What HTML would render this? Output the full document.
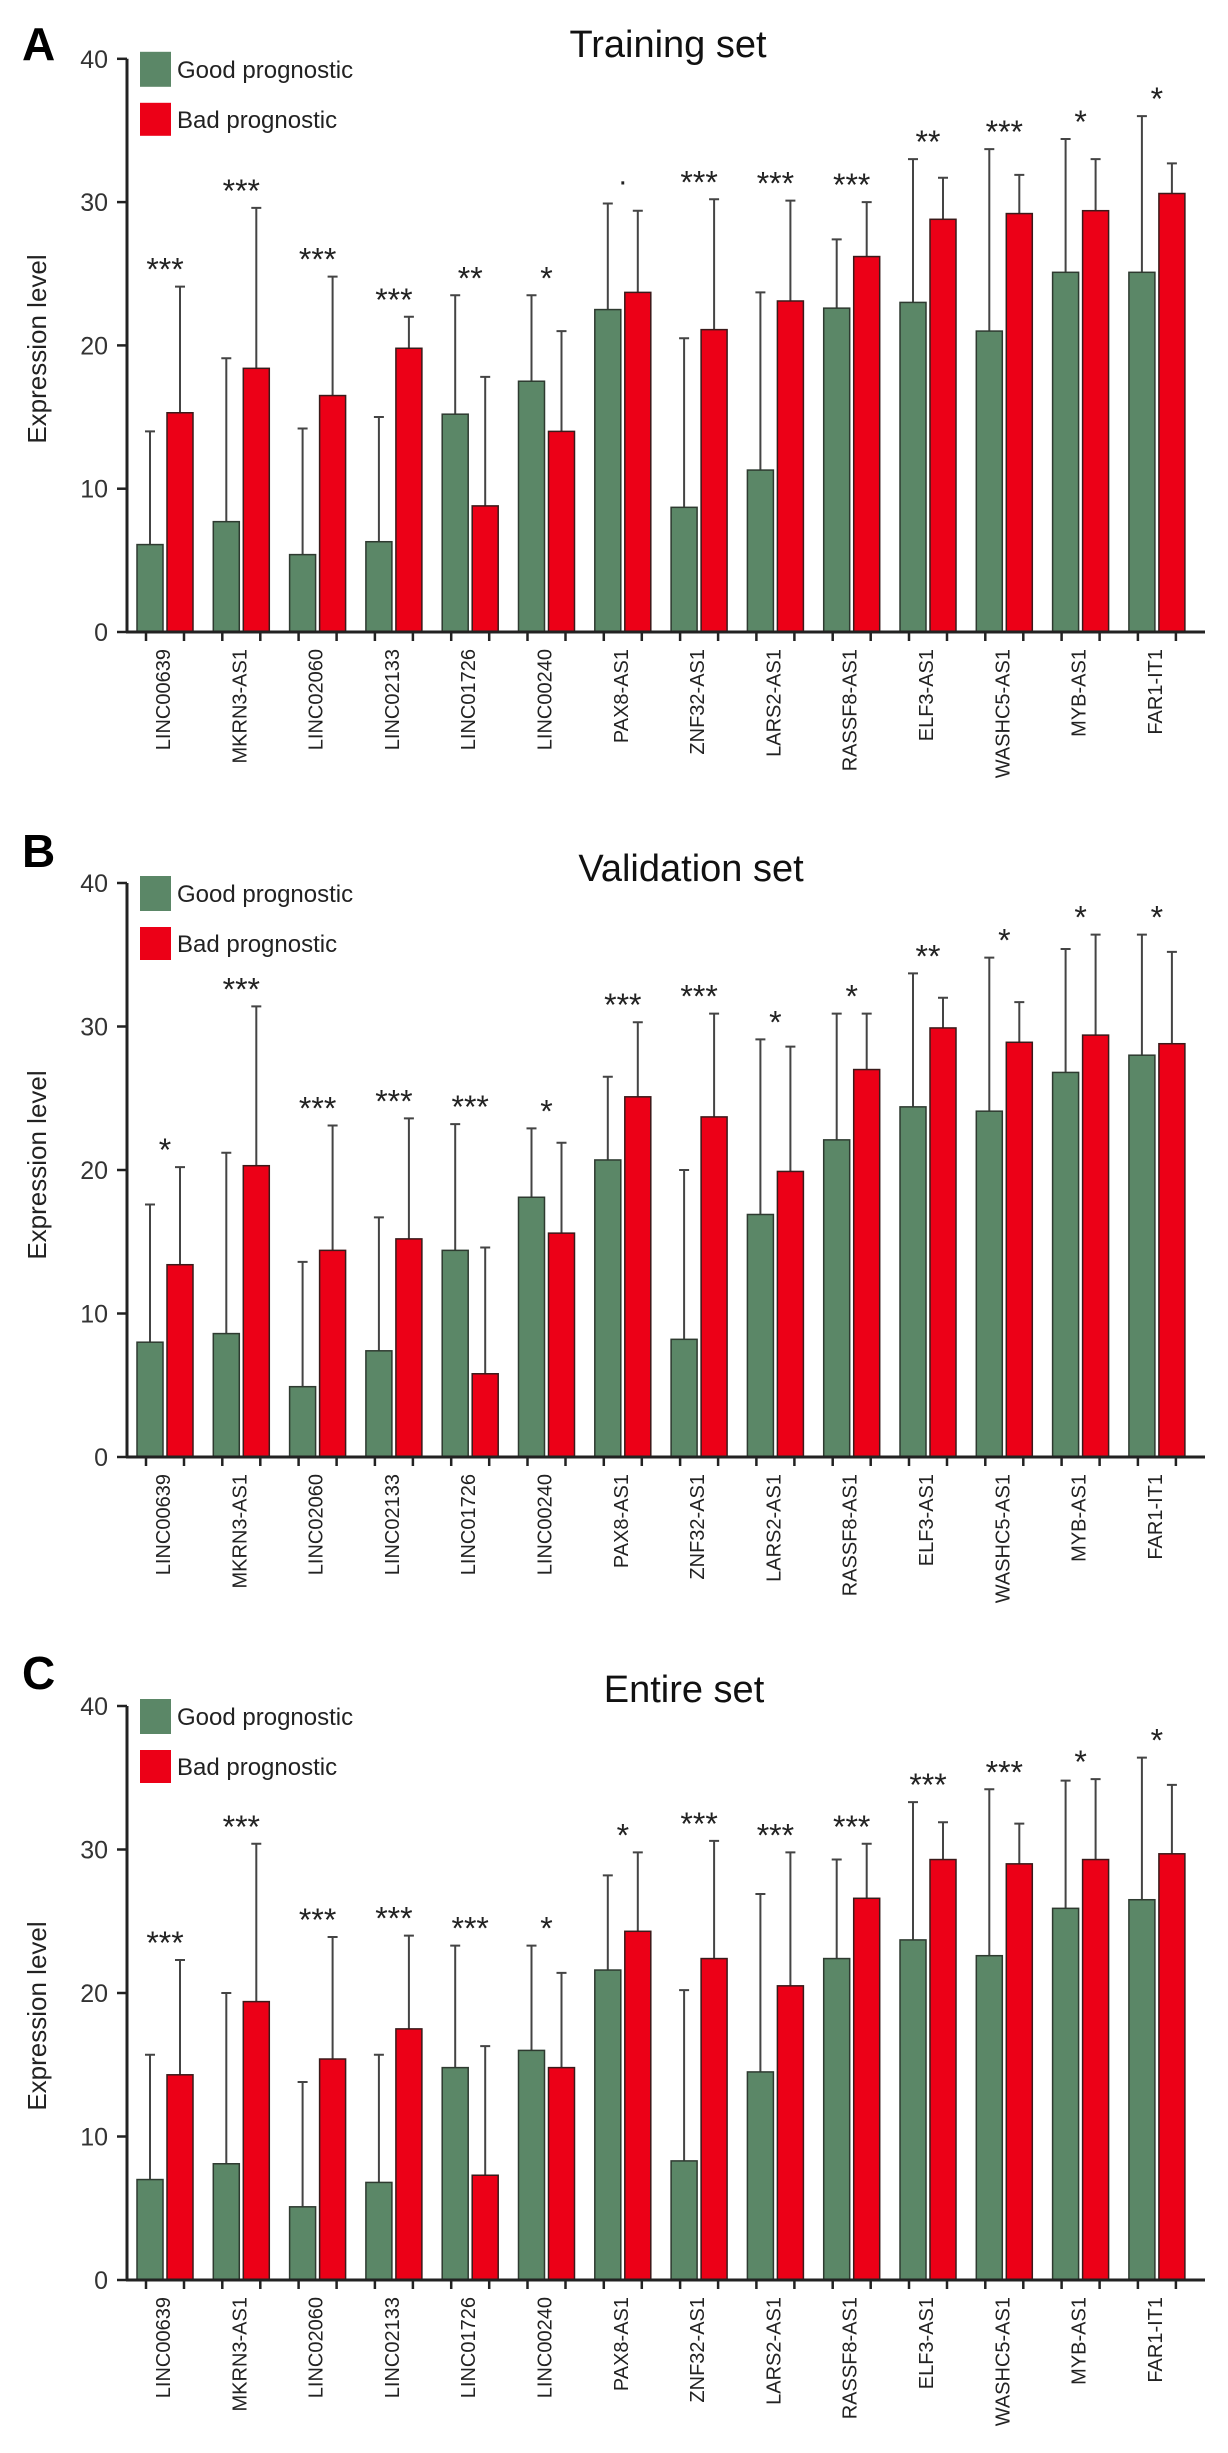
<!DOCTYPE html>
<html><head><meta charset="utf-8">
<style>
html,body{margin:0;padding:0;background:#fff;}
svg{display:block;font-family:"Liberation Sans",Arial,sans-serif;}
</style></head>
<body>
<svg id="fig" width="1228" height="2453" viewBox="0 0 1228 2453" xmlns="http://www.w3.org/2000/svg"></svg>
<script>
const categories = ["LINC00639","MKRN3-AS1","LINC02060","LINC02133","LINC01726","LINC00240","PAX8-AS1","ZNF32-AS1","LARS2-AS1","RASSF8-AS1","ELF3-AS1","WASHC5-AS1","MYB-AS1","FAR1-IT1"];
const yTicks = [0,10,20,30,40];

const goodA    = [6.1,7.7,5.4,6.3,15.2,17.5,22.5,8.7,11.3,22.6,23.0,21.0,25.1,25.1];
const goodErrA = [14.0,19.1,14.2,15.0,23.5,23.5,29.9,20.5,23.7,27.4,33.0,33.7,34.4,36.0];
const badA     = [15.3,18.4,16.5,19.8,8.8,14.0,23.7,21.1,23.1,26.2,28.8,29.2,29.4,30.6];
const badErrA  = [24.1,29.6,24.8,22.0,17.8,21.0,29.4,30.2,30.1,30.0,31.7,31.9,33.0,32.7];
const sigA     = ["***","***","***","***","**","*","·","***","***","***","**","***","*","*"];

const goodB    = [8.0,8.6,4.9,7.4,14.4,18.1,20.7,8.2,16.9,22.1,24.4,24.1,26.8,28.0];
const goodErrB = [17.6,21.2,13.6,16.7,23.2,22.9,26.5,20.0,29.1,30.9,33.7,34.8,35.4,36.4];
const badB     = [13.4,20.3,14.4,15.2,5.8,15.6,25.1,23.7,19.9,27.0,29.9,28.9,29.4,28.8];
const badErrB  = [20.2,31.4,23.1,23.6,14.6,21.9,30.3,30.9,28.6,30.9,32.0,31.7,36.4,35.2];
const sigB     = ["*","***","***","***","***","*","***","***","*","*","**","*","*","*"];

const goodC    = [7.0,8.1,5.1,6.8,14.8,16.0,21.6,8.3,14.5,22.4,23.7,22.6,25.9,26.5];
const goodErrC = [15.7,20.0,13.8,15.7,23.3,23.3,28.2,20.2,26.9,29.3,33.3,34.2,34.8,36.4];
const badC     = [14.3,19.4,15.4,17.5,7.3,14.8,24.3,22.4,20.5,26.6,29.3,29.0,29.3,29.7];
const badErrC  = [22.3,30.4,23.9,24.0,16.3,21.4,29.8,30.6,29.8,30.4,31.9,31.8,34.9,34.5];
const sigC     = ["***","***","***","***","***","*","*","***","***","***","***","***","*","*"];

const NS = "http://www.w3.org/2000/svg";
const svg = document.getElementById('fig');
function mk(tag, attrs, parent, text){
  const e = document.createElementNS(NS, tag);
  for (const k in attrs) e.setAttribute(k, attrs[k]);
  if (text !== undefined) e.textContent = text;
  (parent||svg).appendChild(e);
  return e;
}

const panels = [
  {key:"a", letter:"A", title:"Training set", good:goodA, gErr:goodErrA, bad:badA, bErr:badErrA, sig:sigA,
   zero:632, unit:14.33, letterY:60, titleX:668, titleY:57, yTitleY:349},
  {key:"b", letter:"B", title:"Validation set", good:goodB, gErr:goodErrB, bad:badB, bErr:badErrB, sig:sigB,
   zero:1457, unit:14.35, letterY:867, titleX:691, titleY:881, yTitleY:1165},
  {key:"c", letter:"C", title:"Entire set", good:goodC, gErr:goodErrC, bad:badC, bErr:badErrC, sig:sigC,
   zero:2280, unit:14.35, letterY:1689, titleX:684, titleY:1702, yTitleY:2016}
];

const AXIS_X = 127, X0 = 165, STEP = 76.3, BW = 26;
const GREEN = "#5b8767", RED = "#ec0017";

panels.forEach(p => {
  const g = mk('g', {}, svg);
  
  
  const yS = v => p.zero - v * p.unit;
  const xC = i => X0 + i * STEP;

  const lt = mk('text', {x:22, y:p.letterY, 'font-size':46, 'font-weight':'bold', fill:'#000'}, g, p.letter);
  
  

  const tt = mk('text', {x:p.titleX, y:p.titleY, 'font-size':38, 'text-anchor':'middle', fill:'#111'}, g, p.title);
  
  

  const yt = mk('text', {x:0, y:0, 'font-size':26, 'text-anchor':'middle', fill:'#222',
    transform:'translate(46,' + p.yTitleY + ') rotate(-90)'}, g, 'Expression level');
  
  

  // bars
  categories.forEach((c, i) => {
    const cx = xC(i);
    const gx = cx - 28 + BW/2, rx = cx + 2 + BW/2;
    // error bars
    [[gx, p.good[i], p.gErr[i], 'good'], [rx, p.bad[i], p.bErr[i], 'bad']].forEach(([x, v, e, s]) => {
      const el = mk('path', {d:'M' + x + ' ' + yS(v) + 'V' + yS(e) + 'M' + (x-5) + ' ' + yS(e) + 'H' + (x+5),
        stroke:'#444', 'stroke-width':2, fill:'none'}, g);
      
      
    });
    const gb = mk('rect', {x:cx-28, y:yS(p.good[i]), width:BW, height:p.good[i]*p.unit, fill:GREEN, stroke:'#2e3a30', 'stroke-width':1.5}, g);
    
    
    const rb = mk('rect', {x:cx+2, y:yS(p.bad[i]), width:BW, height:p.bad[i]*p.unit, fill:RED, stroke:'#3a1a1a', 'stroke-width':1.5}, g);
    
    

    // significance
    const top = Math.max(p.gErr[i], p.bErr[i]) + 1.6;
    const s = p.sig[i];
    const isDot = s === '·';
    const st = mk('text', {x:cx, y:yS(top) + (isDot ? 4 : 17), 'font-size':isDot ? 30 : 32, 'text-anchor':'middle', fill:'#222'}, g, isDot ? '.' : s);
    
    

    // x ticks
    const tk = mk('path', {d:'M' + (cx-19) + ' ' + p.zero + 'v9M' + (cx+19) + ' ' + p.zero + 'v9', stroke:'#222', 'stroke-width':2.5}, g);
    
    
    const lb = mk('text', {x:0, y:0, 'font-size':20, 'text-anchor':'end', fill:'#222',
      transform:'translate(' + (cx+5) + ',' + (p.zero+17) + ') rotate(-90)'}, g, c);
    
    
  });

  // axes
  const ya = mk('line', {x1:AXIS_X, y1:yS(40), x2:AXIS_X, y2:p.zero+1, stroke:'#222', 'stroke-width':3}, g);
  
  
  const xa = mk('line', {x1:AXIS_X-1, y1:p.zero, x2:1205, y2:p.zero, stroke:'#222', 'stroke-width':3}, g);
  
  
  yTicks.forEach(t => {
    const tl = mk('line', {x1:117, y1:yS(t), x2:AXIS_X, y2:yS(t), stroke:'#222', 'stroke-width':2.5}, g);
    
    
    const tx = mk('text', {x:108, y:yS(t)+9, 'font-size':25, 'text-anchor':'end', fill:'#333'}, g, String(t));
    
    
  });

  // legend
  const top40 = yS(40);
  const l1 = mk('rect', {x:140, y:top40-7, width:31, height:35, fill:GREEN}, g);
  
  
  const l1t = mk('text', {x:177, y:top40+19, 'font-size':24, fill:'#222'}, g, 'Good prognostic');
  
  
  const l2 = mk('rect', {x:140, y:top40+44, width:31, height:33, fill:RED}, g);
  
  
  const l2t = mk('text', {x:177, y:top40+69, 'font-size':24, fill:'#222'}, g, 'Bad prognostic');
  
  
});
</script>
</body></html>
